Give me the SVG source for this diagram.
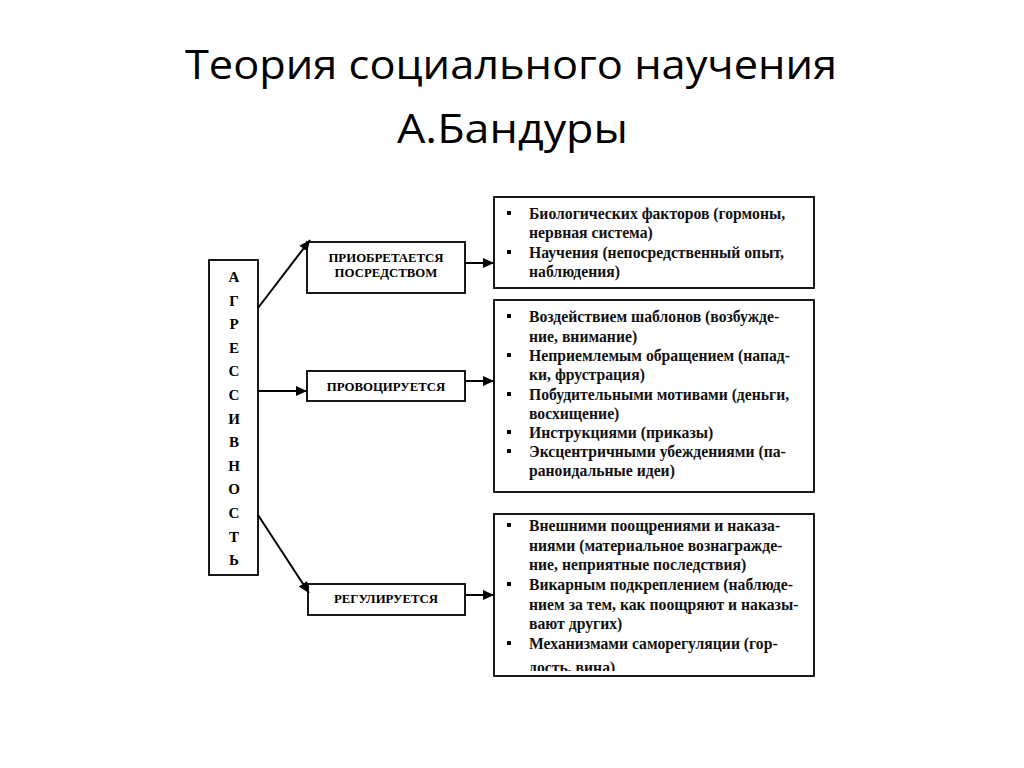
<svg xmlns="http://www.w3.org/2000/svg" width="1024" height="768" viewBox="0 0 1024 768">
<style>
.title{font-family:"Open Sans","Noto Sans",sans-serif;font-size:41px;fill:#000}
.box{fill:#fff;stroke:#000;stroke-width:1.8}
.col{font-family:"Liberation Serif","DejaVu Serif",serif;font-weight:bold;font-size:15px;fill:#000;text-anchor:middle}
.lbl{font-family:"Liberation Serif","DejaVu Serif",serif;font-weight:bold;font-size:12.8px;fill:#000;text-anchor:middle}
.it{font-family:"Liberation Serif","DejaVu Serif",serif;font-weight:bold;font-size:15.7px;fill:#111}
.bul{fill:#000}
.con{stroke:#000;stroke-width:2;fill:none;marker-end:url(#ah)}
</style>
<defs>
<marker id="ah" markerUnits="userSpaceOnUse" markerWidth="12" markerHeight="10" refX="11" refY="5" orient="auto">
<path d="M0,0 L11,5 L0,10 z" fill="#000"/>
</marker>
<clipPath id="clipC"><rect x="494" y="514" width="320" height="157"/></clipPath>
</defs>
<rect width="1024" height="768" fill="#fff"/>
<g id="title">
<text class="title" x="185" y="79" textLength="652" lengthAdjust="spacingAndGlyphs">Теория социального научения</text>
<text class="title" x="397" y="143" textLength="231" lengthAdjust="spacingAndGlyphs">А.Бандуры</text>
</g>
<g id="aggr">
<rect class="box" x="209" y="260" width="49" height="315"/>
<text class="col" x="234" y="282">А</text>
<text class="col" x="234" y="305.6">Г</text>
<text class="col" x="234" y="329.2">Р</text>
<text class="col" x="234" y="352.8">Е</text>
<text class="col" x="234" y="376.4">С</text>
<text class="col" x="234" y="400">С</text>
<text class="col" x="234" y="423.6">И</text>
<text class="col" x="234" y="447.2">В</text>
<text class="col" x="234" y="470.8">Н</text>
<text class="col" x="234" y="494.4">О</text>
<text class="col" x="234" y="518">С</text>
<text class="col" x="234" y="541.6">Т</text>
<text class="col" x="234" y="565.2">Ь</text>
</g>
<g id="acquired">
<rect class="box" x="307" y="242" width="158" height="51"/>
<text class="lbl" x="386" y="262">ПРИОБРЕТАЕТСЯ</text>
<text class="lbl" x="386" y="277">ПОСРЕДСТВОМ</text>
</g>
<g id="provoked">
<rect class="box" x="307" y="371" width="158" height="30"/>
<text class="lbl" x="386" y="391">ПРОВОЦИРУЕТСЯ</text>
</g>
<g id="regulated">
<rect class="box" x="308" y="584" width="157" height="31"/>
<text class="lbl" x="386" y="603">РЕГУЛИРУЕТСЯ</text>
</g>
<g id="boxA">
<rect class="box" x="494" y="197" width="320" height="91"/>
<rect class="bul" x="507" y="211" width="4" height="4"/>
<rect class="bul" x="507" y="250" width="4" height="4"/>
<text class="it" x="529" y="219">Биологических факторов (гормоны,</text>
<text class="it" x="529" y="238">нервная система)</text>
<text class="it" x="529" y="258">Научения (непосредственный опыт,</text>
<text class="it" x="529" y="277">наблюдения)</text>
</g>
<g id="boxB">
<rect class="box" x="494" y="300" width="320" height="192"/>
<rect class="bul" x="507" y="314" width="4" height="4"/>
<rect class="bul" x="507" y="353" width="4" height="4"/>
<rect class="bul" x="507" y="392" width="4" height="4"/>
<rect class="bul" x="507" y="430" width="4" height="4"/>
<rect class="bul" x="507" y="449" width="4" height="4"/>
<text class="it" x="529" y="322">Воздействием шаблонов (возбужде-</text>
<text class="it" x="529" y="341.5">ние, внимание)</text>
<text class="it" x="529" y="361">Неприемлемым обращением (напад-</text>
<text class="it" x="529" y="380">ки, фрустрация)</text>
<text class="it" x="529" y="399.5">Побудительными мотивами (деньги,</text>
<text class="it" x="529" y="418.5">восхищение)</text>
<text class="it" x="529" y="438">Инструкциями (приказы)</text>
<text class="it" x="529" y="457">Эксцентричными убеждениями (па-</text>
<text class="it" x="529" y="476">раноидальные идеи)</text>
</g>
<g id="boxC">
<rect class="box" x="494" y="514" width="320" height="162"/>
<rect class="bul" x="507" y="523" width="4" height="4"/>
<rect class="bul" x="507" y="582" width="4" height="4"/>
<rect class="bul" x="507" y="641" width="4" height="4"/>
<g clip-path="url(#clipC)">
<text class="it" x="529" y="531">Внешними поощрениями и наказа-</text>
<text class="it" x="529" y="551">ниями (материальное вознагражде-</text>
<text class="it" x="529" y="570">ние, неприятные последствия)</text>
<text class="it" x="529" y="590">Викарным подкреплением (наблюде-</text>
<text class="it" x="529" y="610">нием за тем, как поощряют и наказы-</text>
<text class="it" x="529" y="629">вают других)</text>
<text class="it" x="529" y="649">Механизмами саморегуляции (гор-</text>
<text class="it" x="529" y="673">дость, вина)</text>
</g>
</g>
<g id="connectors">
<line class="con" x1="258" y1="308" x2="310" y2="240"/>
<line class="con" x1="258" y1="391" x2="307" y2="391"/>
<line class="con" x1="258" y1="515" x2="309" y2="593"/>
<line class="con" x1="465" y1="263" x2="494" y2="263"/>
<line class="con" x1="465" y1="381" x2="494" y2="381"/>
<line class="con" x1="465" y1="595" x2="494" y2="595"/>
</g>
</svg>
